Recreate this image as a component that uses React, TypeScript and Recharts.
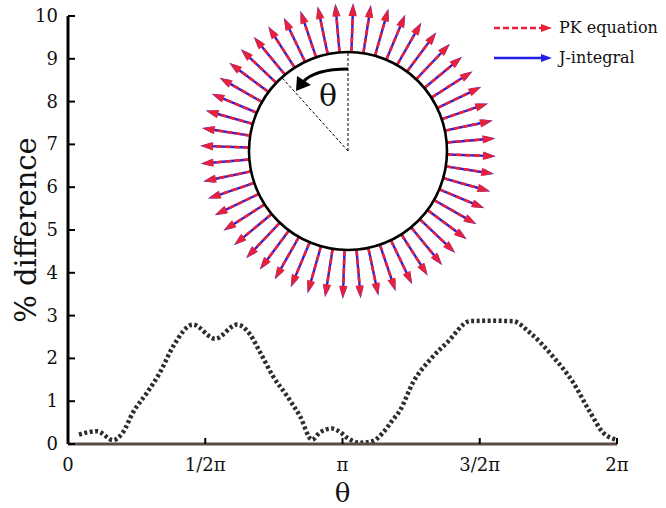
import { LineChart, Line, XAxis, YAxis, Customized } from 'recharts';

// theta in units of pi, % difference between PK equation and J-integral
const thetaPi = [
  0.04, 0.106, 0.164, 0.2, 0.237, 0.288, 0.335, 0.383, 0.455, 0.536, 0.616, 0.663,
  0.7, 0.747, 0.798, 0.845, 0.889, 0.918, 0.962, 0.991, 1.016, 1.064, 1.111, 1.148,
  1.184, 1.209, 1.257, 1.319, 1.381, 1.465, 1.537, 1.621, 1.683, 1.767, 1.84, 1.902,
  1.949, 2.0,
];
const diffPct = [
  0.22, 0.3, 0.09, 0.27, 0.74, 1.2, 1.67, 2.28, 2.79, 2.46, 2.79, 2.56,
  2.14, 1.58, 1.12, 0.65, 0.1, 0.27, 0.36, 0.28, 0.15, 0.03, 0.07, 0.27,
  0.57, 0.78, 1.44, 1.97, 2.37, 2.87, 2.88, 2.87, 2.6, 2.04, 1.44, 0.74,
  0.27, 0.1,
];
const xTicks = [0, 0.5, 1, 1.5, 2];
const xTickLabels = ['0', '1/2π', 'π', '3/2π', '2π'];
const yTicks = [0, 1, 2, 3, 4, 5, 6, 7, 8, 9, 10];
const arrowCount = 52;

const data = thetaPi.map((t, i) => ({ t, d: diffPct[i] }));

const FONT = '"DejaVu Serif", serif';
const PLOT_LEFT = 68;
const PLOT_BOTTOM = 444;

const XTick = (props: any) => {
  const { x, payload } = props;
  const i = xTicks.indexOf(payload.value);
  return (
    <g>
      {payload.value > 0 && (
        <line x1={x} x2={x} y1={PLOT_BOTTOM} y2={PLOT_BOTTOM - 6} stroke='#000' strokeWidth={2} />
      )}
      <text x={x} y={471} textAnchor='middle' fontFamily={FONT} fontSize={18} fill='#111'>
        {xTickLabels[i]}
      </text>
    </g>
  );
};

const YTick = (props: any) => {
  const { y, payload } = props;
  return (
    <g>
      <line x1={PLOT_LEFT} x2={PLOT_LEFT + 7} y1={y} y2={y} stroke='#000' strokeWidth={2} />
      <text x={58} y={y + 6} textAnchor='end' fontFamily={FONT} fontSize={18} fill='#111'>
        {payload.value}
      </text>
    </g>
  );
};

function arrowHead(tx: number, ty: number, ux: number, uy: number, len: number, hw: number) {
  const bx = tx - ux * len;
  const by = ty - uy * len;
  const px = -uy;
  const py = ux;
  return `${tx},${ty} ${bx + px * hw},${by + py * hw} ${bx - px * hw},${by - py * hw}`;
}

function Inset() {
  const cx = 348;
  const cy = 151;
  const r = 99;
  const tip = 147;
  const arrows = [];
  for (let k = 0; k < arrowCount; k++) {
    const a = ((k * 360) / arrowCount + 2) * (Math.PI / 180);
    const ux = Math.sin(a);
    const uy = -Math.cos(a);
    const sx = cx + ux * r;
    const sy = cy + uy * r;
    const bt = tip + 1;
    const bx = cx + ux * bt;
    const by = cy + uy * bt;
    const tx = cx + ux * tip;
    const ty = cy + uy * tip;
    arrows.push(
      <g key={k}>
        <line x1={sx} y1={sy} x2={bx - ux * 8} y2={by - uy * 8} stroke='#1f1fe8' strokeWidth={2.4} />
        <polygon points={arrowHead(bx, by, ux, uy, 11, 3.6)} fill='#3a2fd8' />
        <line
          x1={sx}
          y1={sy}
          x2={tx - ux * 9}
          y2={ty - uy * 9}
          stroke='#e8213a'
          strokeWidth={2.6}
          strokeDasharray='6 3'
        />
        <polygon points={arrowHead(tx, ty, ux, uy, 12, 4.2)} fill='#e8213a' />
      </g>
    );
  }
  const ang = 42 * (Math.PI / 180);
  const ex = cx - Math.sin(ang) * r;
  const ey = cy - Math.cos(ang) * r;
  return (
    <g>
      {arrows}
      <circle cx={cx} cy={cy} r={r} fill='#fff' stroke='#000' strokeWidth={2.6} />
      <line x1={cx} y1={cy} x2={cx} y2={cy - r} stroke='#000' strokeWidth={1} strokeDasharray='3 2' />
      <line x1={cx} y1={cy} x2={ex} y2={ey} stroke='#000' strokeWidth={1} strokeDasharray='3 2' />
      <path d={`M ${cx} 69 C 330 69 312 72 303 82`} fill='none' stroke='#000' strokeWidth={3} />
      <polygon points='296,91 297,76 311,85' fill='#000' />
      <text x={328} y={106} textAnchor='middle' fontFamily={FONT} fontSize={30} fill='#111'>
        θ
      </text>
      {/* legend */}
      <line x1={494} y1={28} x2={543} y2={28} stroke='#e8213a' strokeWidth={2.4} strokeDasharray='6 3' />
      <polygon points={arrowHead(552, 28, 1, 0, 11, 4)} fill='#e8213a' />
      <text x={559} y={33} fontFamily={FONT} fontSize={16} fill='#111'>
        PK equation
      </text>
      <line x1={494} y1={58} x2={543} y2={58} stroke='#1f1fe8' strokeWidth={2.4} />
      <polygon points={arrowHead(552, 58, 1, 0, 11, 4)} fill='#1f1fe8' />
      <text x={559} y={63} fontFamily={FONT} fontSize={16} fill='#111'>
        J-integral
      </text>
    </g>
  );
}

export default function App() {
  return (
    <div style={{ position: 'absolute', left: 0, top: 0, width: 666, height: 508, background: '#fff' }}>
      <LineChart width={666} height={508} data={data} margin={{ top: 16, right: 49, bottom: 0, left: 0 }}>
        <Customized component={Inset} />
        <XAxis
          dataKey='t'
          type='number'
          domain={[0, 2]}
          ticks={xTicks}
          height={64}
          axisLine={{ stroke: '#5a4b44', strokeWidth: 3 }}
          tickLine={false}
          tick={<XTick />}
          label={{ value: 'θ', position: 'insideBottom', offset: 6, fontSize: 26, fontFamily: FONT, fill: '#111' }}
        />
        <YAxis
          type='number'
          domain={[0, 10]}
          ticks={yTicks}
          width={68}
          axisLine={{ stroke: '#000', strokeWidth: 3 }}
          tickLine={false}
          tick={<YTick />}
          label={{
            value: '% difference',
            angle: -90,
            position: 'insideLeft',
            offset: 26,
            style: { textAnchor: 'middle' },
            fontSize: 29,
            fontFamily: FONT,
            fill: '#111',
          }}
        />
        <Line
          dataKey='d'
          type='monotone'
          stroke='#2e2e2e'
          strokeWidth={4.5}
          strokeDasharray='3 2.5'
          dot={false}
          isAnimationActive={false}
        />
      </LineChart>
    </div>
  );
}
